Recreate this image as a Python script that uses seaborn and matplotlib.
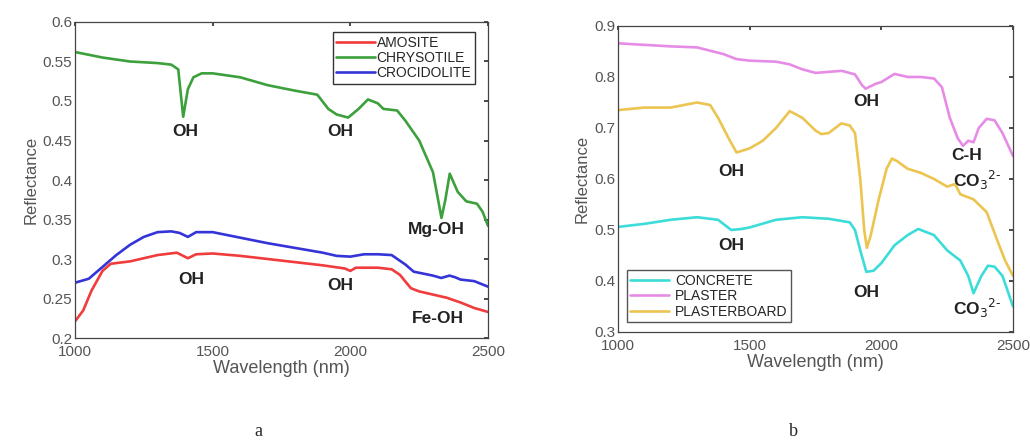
import matplotlib
matplotlib.use("Agg")
import matplotlib.pyplot as plt
import pandas as pd
import seaborn as sns

# panel a: asbestos spectra
amosite_nm = [1000, 1030, 1060, 1100, 1130, 1200, 1300, 1370, 1410, 1440, 1500, 1600, 1700, 1800,
              1900, 1980, 2000, 2020, 2100, 2150, 2180, 2220, 2250, 2300, 2350, 2400, 2450, 2500]
amosite_r = [0.221, 0.235, 0.26, 0.285, 0.294, 0.297, 0.305, 0.308, 0.301, 0.306, 0.307, 0.304, 0.30, 0.296,
             0.292, 0.288, 0.285, 0.289, 0.289, 0.287, 0.28, 0.263, 0.259, 0.255, 0.251, 0.245, 0.238, 0.233]

chrysotile_nm = [1000, 1100, 1200, 1300, 1350, 1375, 1393, 1410, 1430, 1460, 1500, 1600, 1700, 1800, 1880,
                 1920, 1950, 1992, 2030, 2064, 2100, 2120, 2170, 2200, 2250, 2300, 2331, 2345, 2361,
                 2390, 2421, 2460, 2480, 2500]
chrysotile_r = [0.562, 0.555, 0.55, 0.548, 0.546, 0.54, 0.48, 0.515, 0.53, 0.535, 0.535, 0.53, 0.52, 0.513, 0.508,
                0.49, 0.483, 0.479, 0.49, 0.502, 0.497, 0.49, 0.488, 0.475, 0.45, 0.41, 0.352, 0.375, 0.408,
                0.385, 0.373, 0.37, 0.36, 0.342]

crocidolite_nm = [1000, 1050, 1100, 1150, 1200, 1250, 1300, 1350, 1380, 1410, 1440, 1500, 1600, 1700,
                  1800, 1900, 1950, 2000, 2050, 2100, 2150, 2200, 2230, 2300, 2330, 2360, 2380, 2400, 2450, 2500]
crocidolite_r = [0.27, 0.275, 0.29, 0.305, 0.318, 0.328, 0.334, 0.335, 0.333, 0.328, 0.334, 0.334, 0.327, 0.32,
                 0.314, 0.308, 0.304, 0.303, 0.306, 0.306, 0.305, 0.293, 0.284, 0.279, 0.276, 0.279, 0.277,
                 0.274, 0.272, 0.265]

# panel b: building materials
concrete_nm = [1000, 1100, 1200, 1300, 1380, 1430, 1470, 1500, 1600, 1700, 1800, 1880, 1900, 1920, 1943,
               1970, 2000, 2050, 2100, 2140, 2200, 2250, 2300, 2330, 2350, 2380, 2405, 2430, 2460, 2500]
concrete_r = [0.506, 0.512, 0.52, 0.525, 0.52, 0.5, 0.502, 0.505, 0.52, 0.525, 0.522, 0.515, 0.5, 0.46, 0.418,
              0.42, 0.435, 0.47, 0.49, 0.502, 0.49, 0.46, 0.44, 0.41, 0.376, 0.41, 0.43, 0.428, 0.41, 0.35]

plaster_nm = [1000, 1200, 1300, 1400, 1450, 1500, 1600, 1650, 1700, 1750, 1800, 1850, 1900, 1925, 1940,
              1980, 2000, 2050, 2100, 2150, 2200, 2230, 2260, 2290, 2310, 2330, 2350, 2370, 2400, 2430,
              2460, 2500]
plaster_r = [0.866, 0.86, 0.858, 0.845, 0.835, 0.832, 0.83, 0.825, 0.815, 0.808, 0.81, 0.812, 0.805, 0.785, 0.777,
             0.787, 0.79, 0.806, 0.8, 0.8, 0.797, 0.78, 0.72, 0.68, 0.665, 0.675, 0.672, 0.70, 0.718, 0.715,
             0.69, 0.645]

plasterboard_nm = [1000, 1100, 1200, 1300, 1350, 1380, 1420, 1450, 1500, 1550, 1600, 1652, 1700, 1750, 1772,
                   1800, 1848, 1880, 1900, 1920, 1935, 1945, 1960, 1990, 2020, 2040, 2060, 2100, 2150, 2200,
                   2250, 2280, 2300, 2350, 2400, 2440, 2470, 2500]
plasterboard_r = [0.735, 0.74, 0.74, 0.75, 0.745, 0.72, 0.68, 0.652, 0.66, 0.675, 0.7, 0.733, 0.72, 0.695, 0.688,
                  0.69, 0.709, 0.705, 0.69, 0.6, 0.5, 0.465, 0.49, 0.56, 0.62, 0.64, 0.635, 0.62, 0.612, 0.6,
                  0.585, 0.59, 0.57, 0.56, 0.535, 0.48, 0.44, 0.41]


def long_form(series):
    frames = []
    for name, x, y in series:
        frames.append(pd.DataFrame({"Wavelength (nm)": x, "Reflectance": y, "material": name}))
    return pd.concat(frames, ignore_index=True)


df_a = long_form([("AMOSITE", amosite_nm, amosite_r),
                  ("CHRYSOTILE", chrysotile_nm, chrysotile_r),
                  ("CROCIDOLITE", crocidolite_nm, crocidolite_r)])
df_b = long_form([("CONCRETE", concrete_nm, concrete_r),
                  ("PLASTER", plaster_nm, plaster_r),
                  ("PLASTERBOARD", plasterboard_nm, plasterboard_r)])

sns.set_theme(style="white")
plt.rcParams["font.family"] = ["Liberation Sans", "DejaVu Sans"]
plt.rcParams["xtick.direction"] = "in"
plt.rcParams["ytick.direction"] = "in"

fig = plt.figure(figsize=(10.3, 4.47), dpi=100)
ax_a = fig.add_axes([0.0728, 0.2438, 0.401, 0.707])
ax_b = fig.add_axes([0.600, 0.2573, 0.3835, 0.6846])

pal_a = {"AMOSITE": "#f03c3c", "CHRYSOTILE": "#3ca03c", "CROCIDOLITE": "#3434d8"}
pal_b = {"CONCRETE": "#3cdcd8", "PLASTER": "#e68ce6", "PLASTERBOARD": "#ecc450"}

sns.lineplot(data=df_a, x="Wavelength (nm)", y="Reflectance", hue="material", palette=pal_a,
             estimator=None, linewidth=1.9, ax=ax_a)
sns.lineplot(data=df_b, x="Wavelength (nm)", y="Reflectance", hue="material", palette=pal_b,
             estimator=None, linewidth=1.9, ax=ax_b)

ax_a.set_xlim(1000, 2500)
ax_a.set_ylim(0.2, 0.6)
ax_a.set_yticks([0.2, 0.25, 0.3, 0.35, 0.4, 0.45, 0.5, 0.55, 0.6])
ax_a.set_yticklabels(["0.2", "0.25", "0.3", "0.35", "0.4", "0.45", "0.5", "0.55", "0.6"])
ax_b.set_xlim(1000, 2500)
ax_b.set_ylim(0.3, 0.9)
ax_b.set_yticks([0.3, 0.4, 0.5, 0.6, 0.7, 0.8, 0.9])
ax_b.set_yticklabels(["0.3", "0.4", "0.5", "0.6", "0.7", "0.8", "0.9"])

for ax in (ax_a, ax_b):
    ax.set_xticks([1000, 1500, 2000, 2500])
    ax.tick_params(labelsize=11, colors="#333333", length=3, top=True, right=True,
                   labelcolor="#555555")
    ax.tick_params(axis="x", pad=5)
    ax.tick_params(axis="y", pad=2)
    ax.set_xlabel("Wavelength (nm)", fontsize=13, color="#555555", labelpad=1)
    ax.set_ylabel("Reflectance", fontsize=12, color="#555555", labelpad=3)
    for s in ax.spines.values():
        s.set_color("#444444")
        s.set_linewidth(0.9)

ax_a.legend(loc="upper right", fontsize=10, handlelength=2.8, handletextpad=0.1, borderpad=0.25,
            labelspacing=0.1, fancybox=False, edgecolor="#333333", framealpha=1,
            bbox_to_anchor=(0.985, 0.99))
ax_b.legend(loc="lower left", fontsize=10, handlelength=2.8, handletextpad=0.4, borderpad=0.25,
            labelspacing=0.1, fancybox=False, edgecolor="#555555", framealpha=1,
            bbox_to_anchor=(0.005, 0.01))

lab = dict(fontsize=12.5, fontweight="bold", color="#222222", ha="center", va="center")
ax_a.text(1400, 0.461, "OH", **lab)
ax_a.text(1964, 0.461, "OH", **lab)
ax_a.text(2312, 0.337, "Mg-OH", **lab)
ax_a.text(1423, 0.274, "OH", **lab)
ax_a.text(1964, 0.267, "OH", **lab)
ax_a.text(2318, 0.225, "Fe-OH", **lab)

ax_b.text(1943, 0.751, "OH", **lab)
ax_b.text(1430, 0.614, "OH", **lab)
ax_b.text(1430, 0.47, "OH", **lab)
ax_b.text(1943, 0.378, "OH", **lab)
ax_b.text(2323, 0.647, "C-H", **lab)
ax_b.text(2365, 0.598, "CO$_3$$^{2\\text{-}}$", **lab)
ax_b.text(2365, 0.346, "CO$_3$$^{2\\text{-}}$", **lab)

fig.text(258 / 1030, 1 - 432 / 447, "a", fontsize=13, ha="center", va="center",
         family=["Liberation Serif", "DejaVu Serif"])
fig.text(793 / 1030, 1 - 432 / 447, "b", fontsize=13, ha="center", va="center",
         family=["Liberation Serif", "DejaVu Serif"])

fig.savefig("out.png", dpi=100)
